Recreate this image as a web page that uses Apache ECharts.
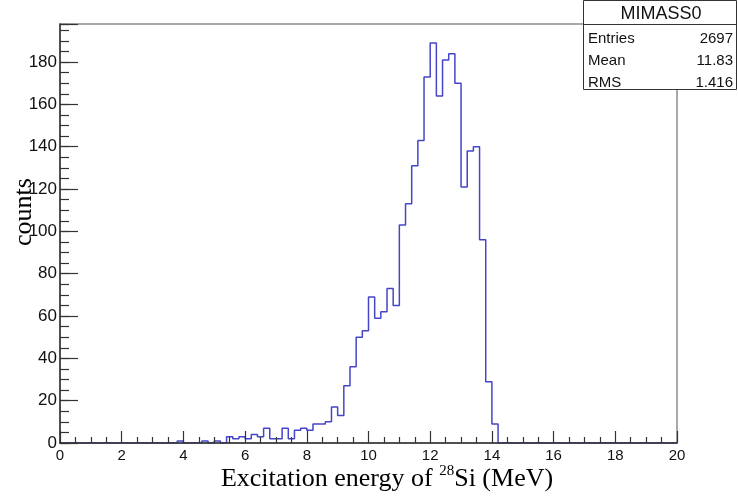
<!DOCTYPE html>
<html>
<head>
<meta charset="utf-8">
<title>MIMASS0</title>
<script src="https://cdn.jsdelivr.net/npm/echarts@6/dist/echarts.min.js"></script>
<style>
    html, body { margin: 0; padding: 0; background: #fff; }
    #chart { width: 738px; height: 503px; }
</style>
</head>
<body>
<div id="chart"></div>
<script>
    // histogram: 100 bins of 0.2 MeV between 0 and 20
    var binLow = 0;
    var binWidth = 0.2;
    var counts = [
        0, 0, 0, 0, 0, 0, 0, 0, 0, 0,
        0, 0, 0, 0, 0, 0, 0, 0, 0, 1,
        0, 0, 0, 1, 0, 1, 0, 3, 2, 3,
        2, 4, 3, 7, 2, 2, 7, 2, 6, 7,
        6, 9, 9, 10, 17, 13, 27, 36, 50, 53,
        69, 59, 62, 73, 65, 103, 113, 131, 143, 173,
        189, 164, 181, 184, 170, 121, 138, 140, 96, 29,
        9, 0, 0, 0, 0, 0, 0, 0, 0, 0,
        0, 0, 0, 0, 0, 0, 0, 0, 0, 0,
        0, 0, 0, 0, 0, 0, 0, 0, 0, 0
    ];
    var xRange = [0, 20];
    var yRange = [0, 198];
    var statTitle = 'MIMASS0';
    var statLabels = ['Entries', 'Mean', 'RMS'];
    var statValues = ['2697', '11.83', '1.416'];

    // points at bin low edges, step drawn to the next edge
    var histData = [];
    for (var i = 0; i < counts.length; i++) {
        histData.push([binLow + i * binWidth, counts[i]]);
    }
    histData.push([binLow + counts.length * binWidth, counts[counts.length - 1]]);

    var sans = '"Liberation Sans", Arial, Helvetica, sans-serif';
    var serif = '"Liberation Serif", "Times New Roman", serif';

    var graphics = [
        {
            type: 'rect', z: 100,
            shape: { x: 583.5, y: 0.5, width: 153, height: 89 },
            style: { fill: '#fff', stroke: '#333', lineWidth: 1 }
        },
        {
            type: 'line', z: 101,
            shape: { x1: 583.5, y1: 24.5, x2: 736.5, y2: 24.5 },
            style: { stroke: '#333', lineWidth: 1 }
        },
        {
            type: 'text', z: 101, x: 661, y: 14,
            style: { text: statTitle, textAlign: 'center', textVerticalAlign: 'middle', font: '18px ' + sans, fill: '#111' }
        },
        {
            type: 'text', z: 5, x: 24, y: 212, rotation: Math.PI / 2,
            style: { text: 'counts', textAlign: 'center', textVerticalAlign: 'middle', font: '26px ' + serif, fill: '#000' }
        },
        {
            type: 'text', z: 5, x: 387, y: 479,
            style: {
                text: '{a|Excitation energy of }{s|28}{a|Si (MeV)}',
                textAlign: 'center', textVerticalAlign: 'middle',
                rich: {
                    a: { fontFamily: serif, fontSize: 26, fill: '#000', lineHeight: 30 },
                    s: { fontFamily: serif, fontSize: 15, fill: '#000', lineHeight: 30, verticalAlign: 'top' }
                }
            }
        }
    ];
    statLabels.forEach(function (lab, k) {
        graphics.push({
            type: 'text', z: 101, x: 588, y: 39 + k * 22,
            style: { text: lab, textAlign: 'left', textVerticalAlign: 'middle', font: '15px ' + sans, fill: '#111' }
        });
        graphics.push({
            type: 'text', z: 101, x: 733, y: 39 + k * 22,
            style: { text: statValues[k], textAlign: 'right', textVerticalAlign: 'middle', font: '15px ' + sans, fill: '#111' }
        });
    });

    var chart = echarts.init(document.getElementById('chart'), null, { renderer: 'canvas' });
    var option = {
        animation: false,
        backgroundColor: '#fff',
        grid: {
            left: 60, right: 61, top: 24, bottom: 60,
            show: true, borderColor: '#8c8c8c', borderWidth: 1.5, backgroundColor: 'transparent'
        },
        xAxis: {
            type: 'value', min: xRange[0], max: xRange[1], interval: 2, z: 5,
            axisLine: { show: true, onZero: false, lineStyle: { color: '#333', width: 1.5 } },
            axisTick: { show: true, inside: true, length: 12, lineStyle: { color: '#333', width: 1.2 } },
            minorTick: { show: true, splitNumber: 4, length: 6, lineStyle: { color: '#333', width: 1.2 } },
            splitLine: { show: false },
            axisLabel: { margin: 5, color: '#111', fontFamily: sans, fontSize: 15 }
        },
        yAxis: [
            {
                type: 'value', min: yRange[0], max: yRange[1], interval: 20, position: 'left', z: 5,
                axisLine: { show: true, onZero: false, lineStyle: { color: '#333', width: 1.5 } },
                axisTick: { show: true, inside: true, length: 18, lineStyle: { color: '#333', width: 1.2 } },
                splitLine: { show: false },
                axisLabel: {
                    margin: 3, color: '#111', fontFamily: sans, fontSize: 17,
                    formatter: function (v) { return v % 20 === 0 ? String(v) : ''; }
                }
            },
            {
                type: 'value', min: yRange[0], max: yRange[1], interval: 5, position: 'left', z: 5,
                axisLine: { show: false },
                axisTick: { show: true, inside: true, length: 9, lineStyle: { color: '#333', width: 1.2 } },
                splitLine: { show: false },
                axisLabel: { show: false }
            }
        ],
        series: [{
            type: 'line',
            step: 'end',
            data: histData,
            yAxisIndex: 0,
            showSymbol: false,
            z: 2,
            lineStyle: { color: '#4545c8', width: 1.5 }
        }],
        graphic: graphics
    };
    chart.setOption(option);
</script>
</body>
</html>
